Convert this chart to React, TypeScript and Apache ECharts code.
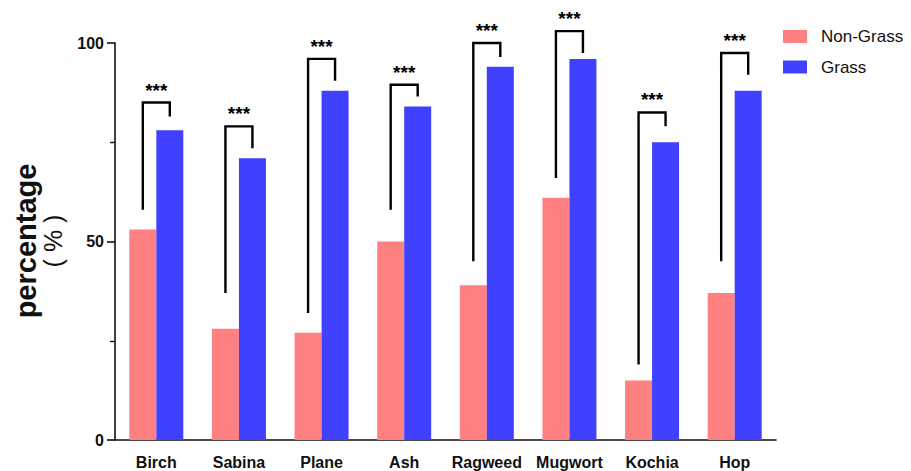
import React, { useEffect, useRef } from "react";
import * as echarts from "echarts";

// Pollen allergens on the x axis
const categories = ["Birch", "Sabina", "Plane", "Ash", "Ragweed", "Mugwort", "Kochia", "Hop"];

// Positive rate (%) per group
const nonGrass = [53, 28, 27, 50, 39, 61, 15, 37];
const grass = [78, 71, 88, 84, 94, 96, 75, 88];

// Significance brackets: [left leg bottom, bracket top, right leg bottom] in %
const bracketLeftBottom = [58, 37, 32, 58, 45, 66, 19, 45];
const bracketTop = [85, 79, 96, 89.5, 100, 103, 82.5, 97.5];
const bracketRightBottom = [81.5, 73.5, 90.5, 86.5, 96.5, 97.5, 79, 92];
const significance = ["***", "***", "***", "***", "***", "***", "***", "***"];

const yTicks = [0, 50, 100];

const BAR_W = 27;
const FONT = "Arial, 'Liberation Sans', sans-serif";

export default function App() {
  const ref = useRef<HTMLDivElement>(null);

  useEffect(() => {
    if (!ref.current) return;
    document.body.style.margin = "0";
    const chart = echarts.init(ref.current, null, { renderer: "svg" });

    const bracketData = categories.map((_, i) => [
      i,
      bracketLeftBottom[i],
      bracketTop[i],
      bracketRightBottom[i],
    ]);

    chart.setOption({
      animation: false,
      backgroundColor: "#ffffff",
      textStyle: { fontFamily: FONT },
      grid: { left: 115, right: 135, top: 43, bottom: 31, containLabel: false },
      legend: {
        orient: "vertical",
        left: 783,
        top: 28,
        padding: 0,
        itemWidth: 24,
        itemHeight: 13,
        itemGap: 13.5,
        data: ["Non-Grass", "Grass"],
        textStyle: { fontSize: 17, color: "#111", fontFamily: FONT, padding: [0, 0, 0, 9] },
        icon: "rect",
      },
      // Rotated y-axis title
      graphic: [
        {
          type: "text",
          x: 39,
          y: 241,
          rotation: Math.PI / 2,
          style: {
            text: "{a|percentage}\n{b|( % )}",
            align: "center",
            verticalAlign: "middle",
            fill: "#111",
            rich: {
              a: { fontSize: 29, fontWeight: "bold", fontFamily: FONT, lineHeight: 27, fill: "#111", align: "center" },
              b: { fontSize: 25, fontWeight: "normal", fontFamily: FONT, lineHeight: 27, fill: "#111", align: "center" },
            },
          },
        },
      ],
      xAxis: {
        type: "category",
        data: categories,
        axisLine: { lineStyle: { color: "#111", width: 1.6 } },
        axisTick: { alignWithLabel: true, length: 8, lineStyle: { color: "#111", width: 1.6 } },
        axisLabel: {
          fontSize: 16,
          fontWeight: "bold",
          color: "#111",
          margin: 14,
          interval: 0,
          fontFamily: FONT,
        },
      },
      yAxis: {
        type: "value",
        min: 0,
        max: 100,
        interval: 50,
        axisLine: { show: true, lineStyle: { color: "#111", width: 1.6 } },
        axisTick: { show: true, length: 8, lineStyle: { color: "#111", width: 1.6 } },
        minorTick: { show: true, splitNumber: 2, length: 5, lineStyle: { color: "#111", width: 1.4 } },
        splitLine: { show: false },
        axisLabel: {
          fontSize: 16,
          fontWeight: "bold",
          color: "#111",
          margin: 11,
          fontFamily: FONT,
          formatter: (v: number) => (yTicks.includes(v) ? String(v) : ""),
        },
      },
      series: [
        {
          name: "Non-Grass",
          type: "bar",
          data: nonGrass,
          barWidth: BAR_W,
          barGap: "0%",
          itemStyle: { color: "#FF8080" },
        },
        {
          name: "Grass",
          type: "bar",
          data: grass,
          barWidth: BAR_W,
          barGap: "0%",
          itemStyle: { color: "#4040FF" },
        },
        {
          name: "significance",
          type: "custom",
          z: 10,
          data: bracketData,
          encode: { x: 0, y: [1, 2, 3] },
          renderItem: (params: any, api: any) => {
            const idx = api.value(0);
            const top = api.coord([idx, api.value(2)]);
            const lb = api.coord([idx, api.value(1)]);
            const rb = api.coord([idx, api.value(3)]);
            const xl = top[0] - BAR_W / 2;
            const xr = top[0] + BAR_W / 2;
            return {
              type: "group",
              children: [
                {
                  type: "polyline",
                  shape: {
                    points: [
                      [xl, lb[1]],
                      [xl, top[1]],
                      [xr, top[1]],
                      [xr, rb[1]],
                    ],
                  },
                  style: { stroke: "#000", lineWidth: 2.4, fill: null },
                },
                {
                  type: "text",
                  style: {
                    text: significance[params.dataIndex],
                    x: top[0],
                    y: top[1] - 3,
                    align: "center",
                    verticalAlign: "bottom",
                    fontSize: 19,
                    fontWeight: "bold",
                    fontFamily: FONT,
                    fill: "#000",
                  },
                },
              ],
            };
          },
        },
      ],
    });

    return () => chart.dispose();
  }, []);

  return <div ref={ref} style={{ width: 911, height: 471 }} />;
}
